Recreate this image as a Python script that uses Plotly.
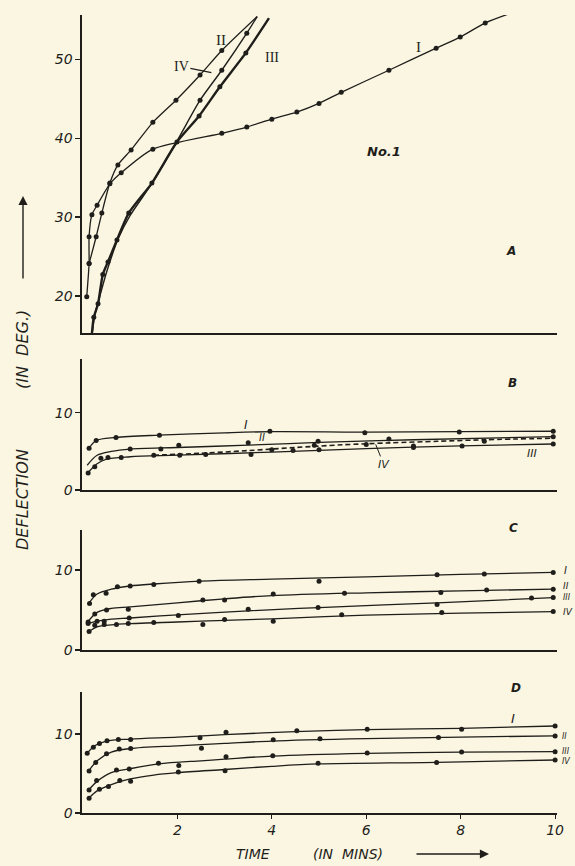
import plotly.graph_objects as go

# ---------------- DATA ----------------
# Panel A  (time in minutes, deflection in degrees)
A_I_t = [0.08, 0.13, 0.13, 0.19, 0.30, 0.57, 0.81, 1.48, 2.94, 3.47, 4.0, 4.53, 5.0, 5.47, 6.48, 7.48, 7.99, 8.52]
A_I_v = [19.9, 24.1, 27.5, 30.3, 31.5, 34.2, 35.6, 38.6, 40.6, 41.4, 42.4, 43.3, 44.4, 45.8, 48.6, 51.4, 52.8, 54.6]
A_I_end_t = [9.0]
A_I_end_v = [55.7]

A_II_t = [0.13, 0.28, 0.40, 0.57, 0.74, 1.02, 1.48, 1.97, 2.48, 2.94]
A_II_v = [24.1, 27.5, 30.5, 34.3, 36.6, 38.5, 42.0, 44.8, 48.0, 51.1]
A_II_end_t = [3.69]
A_II_end_v = [55.4]

A_III_t = [0.23, 0.32, 0.42, 0.53, 0.72, 0.97, 1.46, 1.99, 2.46, 2.90, 3.45]
A_III_v = [17.3, 19.0, 22.7, 24.3, 27.1, 30.5, 34.3, 39.5, 42.8, 46.5, 50.8]
A_III_start_t, A_III_start_v = [0.19], [15.3]
A_III_end_t, A_III_end_v = [3.94], [55.2]

A_IV_t = [0.25, 0.35, 0.50, 0.75, 1.0, 1.5, 2.0, 2.48, 2.94, 3.47]
A_IV_v = [17.6, 19.8, 23.0, 27.3, 30.2, 34.6, 39.7, 44.8, 48.6, 53.3]
A_IV_start_t, A_IV_start_v = [0.20], [15.4]
A_IV_end_t, A_IV_end_v = [3.69], [55.4]

# Panel B
B_I_t = [0.13, 0.28, 0.70, 1.62, 3.96, 5.97, 7.97, 9.96]
B_I_v = [5.4, 6.4, 6.8, 7.1, 7.6, 7.4, 7.5, 7.6]
B_I_line_t = [0.13, 0.28, 0.7, 1.6, 3.0, 4.0, 6.0, 8.0, 9.96]
B_I_line_v = [5.4, 6.4, 6.8, 7.1, 7.4, 7.55, 7.5, 7.55, 7.6]

B_II_t = [1.0, 1.65, 2.03, 3.5, 4.98, 6.48, 9.96]
B_II_v = [5.3, 5.3, 5.8, 6.1, 6.3, 6.6, 6.9]
B_II_line_t = [0.09, 0.3, 0.6, 1.0, 2.0, 3.5, 5.0, 7.0, 9.96]
B_II_line_v = [3.2, 4.5, 5.0, 5.3, 5.5, 5.8, 6.15, 6.5, 6.9]

B_III_t = [0.11, 0.25, 0.38, 0.53, 0.81, 1.5, 2.05, 3.56, 4.45, 5.0, 7.0, 8.03, 9.96]
B_III_v = [2.2, 3.0, 4.1, 4.2, 4.2, 4.5, 4.5, 4.6, 5.1, 5.2, 5.5, 5.7, 5.95]
B_III_line_t = [0.1, 0.3, 0.5, 1.0, 2.0, 4.0, 6.0, 8.0, 9.96]
B_III_line_v = [2.2, 3.4, 4.0, 4.3, 4.5, 4.9, 5.35, 5.7, 5.95]

B_IV_t = [2.6, 4.0, 4.9, 6.0, 7.0, 8.5]
B_IV_v = [4.6, 5.2, 5.8, 5.9, 5.7, 6.3]
B_IV_line_t = [1.5, 2.5, 3.5, 4.5, 5.5, 6.5, 7.5, 8.5, 9.96]
B_IV_line_v = [4.5, 4.75, 5.1, 5.5, 5.85, 6.1, 6.3, 6.5, 6.7]

# Panel C
C_I_t = [0.14, 0.22, 0.49, 0.73, 1.0, 1.5, 2.46, 5.0, 7.5, 8.5, 9.96]
C_I_v = [5.8, 6.9, 7.1, 7.9, 8.0, 8.2, 8.6, 8.6, 9.4, 9.5, 9.7]
C_I_line_t = [0.12, 0.3, 0.6, 1.0, 1.5, 2.5, 4.0, 6.0, 8.0, 9.96]
C_I_line_v = [5.8, 7.0, 7.6, 8.0, 8.25, 8.6, 8.85, 9.15, 9.45, 9.7]

C_II_t = [0.11, 0.25, 0.5, 0.96, 2.54, 3.0, 4.03, 5.54, 7.58, 8.55, 9.96]
C_II_v = [3.5, 4.5, 5.0, 5.1, 6.25, 6.25, 7.0, 7.1, 7.2, 7.5, 7.6]
C_II_line_t = [0.1, 0.3, 0.6, 1.0, 2.0, 3.0, 4.0, 6.0, 8.0, 9.96]
C_II_line_v = [3.5, 4.7, 5.2, 5.4, 5.9, 6.4, 6.8, 7.15, 7.4, 7.6]

C_III_t = [0.11, 0.3, 0.45, 0.98, 2.02, 3.5, 4.98, 7.5, 9.5, 9.96]
C_III_v = [3.3, 3.6, 3.6, 4.0, 4.3, 5.1, 5.3, 5.7, 6.5, 6.55]
C_III_line_t = [0.1, 0.3, 0.6, 1.0, 2.0, 3.5, 5.0, 7.5, 9.96]
C_III_line_v = [3.3, 3.6, 3.85, 4.0, 4.4, 4.9, 5.3, 5.9, 6.55]

C_IV_t = [0.13, 0.25, 0.45, 0.71, 0.96, 1.5, 2.54, 3.0, 4.03, 5.48, 7.6, 9.96]
C_IV_v = [2.3, 3.1, 3.2, 3.2, 3.3, 3.45, 3.2, 3.8, 3.6, 4.4, 4.7, 4.8]
C_IV_line_t = [0.12, 0.3, 0.6, 1.0, 2.0, 3.0, 4.0, 6.0, 8.0, 9.96]
C_IV_line_v = [2.3, 2.9, 3.15, 3.3, 3.5, 3.7, 3.9, 4.35, 4.6, 4.8]

# Panel D
D_I_t = [0.09, 0.22, 0.35, 0.51, 0.75, 1.01, 2.48, 3.03, 4.53, 6.02, 8.02, 10.0]
D_I_v = [7.55, 8.3, 8.8, 9.15, 9.3, 9.3, 9.5, 10.2, 10.4, 10.6, 10.6, 11.0]
D_I_line_t = [0.09, 0.25, 0.5, 1.0, 2.0, 3.0, 4.5, 6.0, 8.0, 10.0]
D_I_line_v = [7.55, 8.5, 9.1, 9.35, 9.6, 9.9, 10.3, 10.55, 10.7, 11.0]

D_II_t = [0.13, 0.27, 0.5, 0.77, 1.01, 2.51, 4.03, 5.02, 7.53, 10.0]
D_II_v = [5.3, 6.4, 7.5, 8.1, 8.15, 8.2, 9.25, 9.4, 9.55, 9.75]
D_II_line_t = [0.12, 0.3, 0.6, 1.0, 2.0, 3.0, 4.0, 6.0, 8.0, 10.0]
D_II_line_v = [5.3, 6.6, 7.7, 8.15, 8.5, 8.8, 9.1, 9.4, 9.6, 9.75]

D_III_t = [0.13, 0.29, 0.71, 0.98, 1.6, 2.03, 3.03, 4.02, 6.02, 8.02, 10.0]
D_III_v = [2.9, 4.1, 5.45, 5.55, 6.3, 6.0, 7.1, 7.25, 7.6, 7.7, 7.75]
D_III_line_t = [0.12, 0.3, 0.6, 1.0, 1.6, 2.5, 3.0, 4.0, 6.0, 8.0, 10.0]
D_III_line_v = [2.9, 4.0, 5.1, 5.6, 6.2, 6.6, 6.8, 7.2, 7.55, 7.7, 7.75]

D_IV_t = [0.13, 0.35, 0.54, 0.78, 1.01, 2.02, 3.01, 4.98, 7.49, 10.0]
D_IV_v = [1.85, 3.0, 3.35, 4.1, 4.0, 5.2, 5.35, 6.3, 6.4, 6.7]
D_IV_line_t = [0.12, 0.3, 0.6, 1.0, 1.5, 2.0, 3.0, 4.0, 5.0, 7.5, 10.0]
D_IV_line_v = [1.85, 2.8, 3.6, 4.3, 4.8, 5.1, 5.5, 5.9, 6.2, 6.4, 6.7]

X_TICKS = [2, 4, 6, 8, 10]
A_YTICKS = [20, 30, 40, 50]
BCD_YTICKS = [0, 10]

# ---------------- STYLE ----------------
BG = "#FAF6E2"
INK = "#1F1E1A"
W, H = 575, 866
ML, MR, MT, MB = 82, 18, 15, 53
PW, PH = W - ML - MR, H - MT - MB


def pxx(X):
    return (X - ML) / PW


def pyy(Y):
    return (H - MB - Y) / PH


fig = go.Figure()


def add_curve(xa, ya, lt, lv, mt, mv, width=1.3, dash="solid", smooth=0.9):
    fig.add_trace(go.Scatter(x=lt, y=lv, mode="lines", xaxis=xa, yaxis=ya,
                             line=dict(color=INK, width=width, dash=dash,
                                       shape="spline", smoothing=smooth),
                             hoverinfo="skip", showlegend=False))
    fig.add_trace(go.Scatter(x=mt, y=mv, mode="markers", xaxis=xa, yaxis=ya,
                             marker=dict(color=INK, size=5),
                             showlegend=False, cliponaxis=False))


# Panel A
add_curve("x", "y", A_I_t + A_I_end_t, A_I_v + A_I_end_v, A_I_t, A_I_v, 1.3, smooth=0.6)
add_curve("x", "y", A_II_t + A_II_end_t, A_II_v + A_II_end_v, A_II_t, A_II_v, 1.3, smooth=0.6)
add_curve("x", "y", A_III_start_t + A_III_t + A_III_end_t,
          A_III_start_v + A_III_v + A_III_end_v, A_III_t, A_III_v, 2.4, smooth=0.6)
add_curve("x", "y", A_IV_start_t + A_IV_t + A_IV_end_t,
          A_IV_start_v + A_IV_v + A_IV_end_v, A_IV_t[-3:], A_IV_v[-3:], 1.4, smooth=0.6)

# Panel B
add_curve("x2", "y2", B_I_line_t, B_I_line_v, B_I_t, B_I_v)
add_curve("x2", "y2", B_II_line_t, B_II_line_v, B_II_t, B_II_v)
add_curve("x2", "y2", B_III_line_t, B_III_line_v, B_III_t, B_III_v)
add_curve("x2", "y2", B_IV_line_t, B_IV_line_v, B_IV_t, B_IV_v, 1.6, dash="5px,3px")

# Panel C
add_curve("x3", "y3", C_I_line_t, C_I_line_v, C_I_t, C_I_v)
add_curve("x3", "y3", C_II_line_t, C_II_line_v, C_II_t, C_II_v)
add_curve("x3", "y3", C_III_line_t, C_III_line_v, C_III_t, C_III_v)
add_curve("x3", "y3", C_IV_line_t, C_IV_line_v, C_IV_t, C_IV_v)

# Panel D
add_curve("x4", "y4", D_I_line_t, D_I_line_v, D_I_t, D_I_v)
add_curve("x4", "y4", D_II_line_t, D_II_line_v, D_II_t, D_II_v)
add_curve("x4", "y4", D_III_line_t, D_III_line_v, D_III_t, D_III_v)
add_curve("x4", "y4", D_IV_line_t, D_IV_line_v, D_IV_t, D_IV_v)

TICKFONT = dict(family="DejaVu Sans", size=14, color=INK, style="italic")
XR = [-0.02, 10.04]


def xaxis(anchor, show_labels=False):
    d = dict(domain=[0, 1], anchor=anchor, range=XR, showgrid=False, zeroline=False,
             showline=True, linecolor=INK, linewidth=1.6, fixedrange=True)
    if show_labels:
        d.update(tickvals=X_TICKS, ticks="outside", ticklen=4, tickwidth=1.2,
                 tickcolor=INK, tickfont=TICKFONT)
    else:
        d.update(showticklabels=False, ticks="")
    return d


def yaxis(anchor, dom, rng, tv):
    return dict(domain=dom, anchor=anchor, range=rng, tickvals=tv, showgrid=False,
                zeroline=False, showline=True, linecolor=INK, linewidth=1.6,
                ticks="outside", ticklen=5, tickwidth=1.2, tickcolor=INK,
                tickfont=TICKFONT, fixedrange=True)


layout = dict(
    width=W, height=H, margin=dict(l=ML, r=MR, t=MT, b=MB),
    paper_bgcolor=BG, plot_bgcolor=BG, showlegend=False,
    xaxis=xaxis("y"),
    xaxis2=xaxis("y2"),
    xaxis3=xaxis("y3"),
    xaxis4=xaxis("y4", True),
    yaxis=yaxis("x", [pyy(333), 1.0], [15.3, 55.6], A_YTICKS),
    yaxis2=yaxis("x2", [pyy(490), pyy(359)], [0, 16.95], BCD_YTICKS),
    yaxis3=yaxis("x3", [pyy(650), pyy(530)], [0, 15], BCD_YTICKS),
    yaxis4=yaxis("x4", [0, pyy(692)], [0, 15.3], BCD_YTICKS),
)
fig.update_layout(**layout)

ann = []


def lab(text, X, Y, size=13, family="DejaVu Sans", italic=True, xanchor="center", angle=0):
    f = dict(family=family, size=size, color=INK)
    if italic:
        f["style"] = "italic"
    ann.append(dict(text=text, x=pxx(X), y=pyy(Y), xref="paper", yref="paper",
                    showarrow=False, font=f, xanchor=xanchor, yanchor="middle",
                    textangle=angle))


SERIF = "Liberation Serif"
# Panel A labels
lab("I", 418, 47, 15, SERIF, False)
lab("II", 221, 40, 15, SERIF, False)
lab("III", 272, 57, 14, SERIF, False)
ann.append(dict(text="IV", x=2.72, y=48.3, xref="x", yref="y", ax=-30, ay=-6,
                showarrow=True, arrowhead=0, arrowwidth=1.1, arrowcolor=INK,
                font=dict(family=SERIF, size=14, color=INK)))
lab("<b>No.1</b>", 384, 152, 13)
lab("<b>A</b>", 511, 251, 12)
lab("<b>B</b>", 512, 383, 12)
lab("<b>C</b>", 513, 528, 12)
lab("<b>D</b>", 516, 688, 12)

# Panel B labels
lab("I", 246, 425, 12)
lab("II", 262, 437, 10)
lab("III", 532, 453, 11)
ann.append(dict(text="IV", x=6.2, y=5.9, xref="x2", yref="y2", ax=8, ay=20,
                showarrow=True, arrowhead=0, arrowwidth=1.0, arrowcolor=INK,
                font=dict(family="DejaVu Sans", size=11, color=INK, style="italic")))

# Panel C labels (squeezed against the right edge, as in the reference)
lab("I", 562, 570, 10, xanchor="left")
lab("II", 561, 586, 9, xanchor="left")
lab("III", 561, 597, 8, xanchor="left")
lab("IV", 561, 612, 9, xanchor="left")

# Panel D labels
lab("I", 513, 718, 13)
lab("II", 560, 736, 8, xanchor="left")
lab("III", 560, 751, 8, xanchor="left")
lab("IV", 560, 761, 8, xanchor="left")

# Axis titles
lab("DEFLECTION", 22, 500, 16, angle=-90)
lab("(IN  DEG.)", 22, 350, 16, angle=-90)
ann.append(dict(text="", x=pxx(23), y=pyy(196), xref="paper", yref="paper",
                ax=0, ay=84, showarrow=True, arrowhead=2, arrowsize=1.3,
                arrowwidth=1.4, arrowcolor=INK))
lab("TIME", 253, 854, 14)
lab("(IN  MINS)", 348, 854, 14)
ann.append(dict(text="", x=pxx(489), y=pyy(854), xref="paper", yref="paper",
                ax=-74, ay=0, showarrow=True, arrowhead=2, arrowsize=1.3,
                arrowwidth=1.4, arrowcolor=INK))

fig.update_layout(annotations=ann)
fig.write_html(
    "out.html",
    config={"displayModeBar": False, "staticPlot": True},
    post_script="document.body.style.margin='0';document.body.style.background='%s';" % BG,
)
